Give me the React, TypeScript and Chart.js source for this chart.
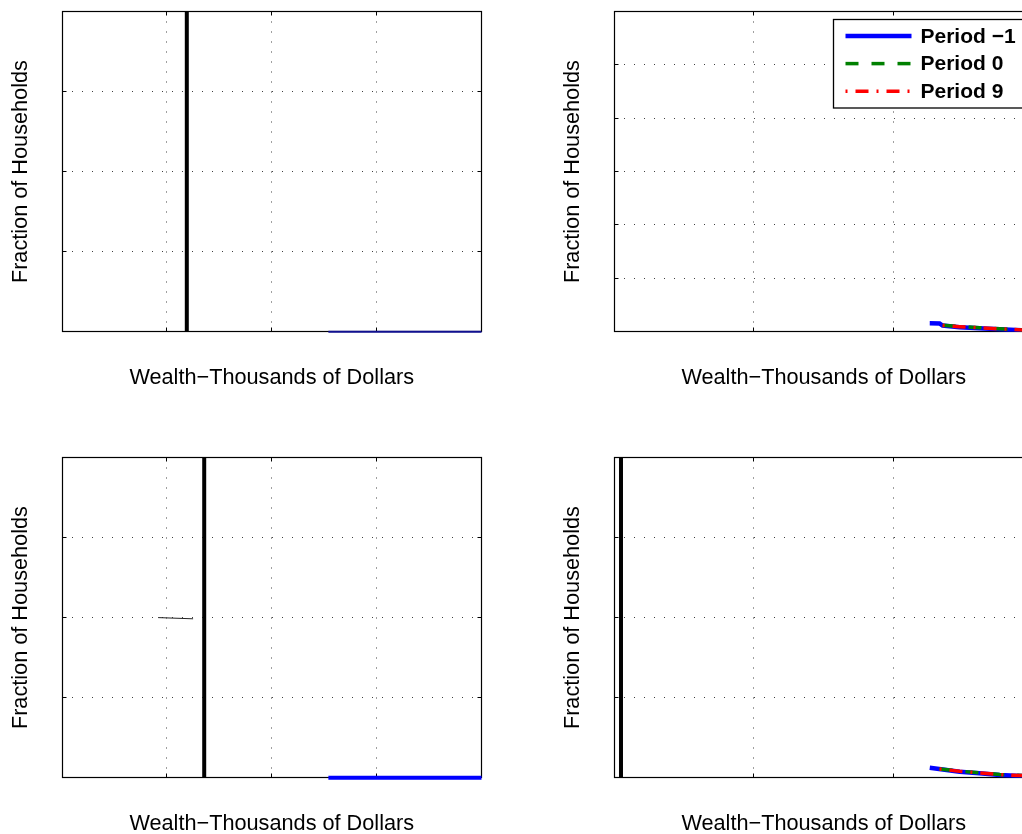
import React, { useEffect, useRef } from 'react';
import { Chart, registerables } from 'chart.js';

Chart.register(...registerables);

const FONT = "'Liberation Sans', Arial, Helvetica, sans-serif";

// ---- Axis ranges (no tick labels are shown in the figure) ----
const leftXMax = 400;
const leftXStep = 100;
const rightXMax = 1500;
const rightXStep = 500;
const yMax4 = 4;
const yMax6 = 6;

// ---- Panel 1 (top-left) ----
const p1MarkerX = [119, 119];
const p1MarkerY = [0, 4];
const p1BlueX = [254, 400];
const p1BlueY = [0, 0];

// ---- Panel 2 (top-right) ----
const p2BlueX = [1129, 1164, 1175, 1236, 1307, 1379, 1457, 1500];
const p2BlueY = [0.157, 0.155, 0.115, 0.082, 0.063, 0.045, 0.026, 0.02];
const p2GreenX = [1175, 1236, 1307, 1379, 1457, 1500];
const p2GreenY = [0.12, 0.095, 0.075, 0.055, 0.034, 0.027];
const p2RedX = [1175, 1236, 1307, 1379, 1457, 1500];
const p2RedY = [0.118, 0.094, 0.074, 0.054, 0.033, 0.026];

// ---- Panel 3 (bottom-left) ----
const p3MarkerX = [135.6, 135.6];
const p3MarkerY = [0, 4];
const p3ThinX = [91.6, 125];
const p3ThinY = [2.0, 1.985];
const p3BlueX = [254, 400];
const p3BlueY = [0, 0];

// ---- Panel 4 (bottom-right) ----
const p4MarkerX = [25, 25];
const p4MarkerY = [0, 4];
const p4BlueX = [1129, 1236, 1307, 1379, 1457, 1500];
const p4BlueY = [0.125, 0.075, 0.055, 0.034, 0.021, 0.017];
const p4GreenX = [1164, 1236, 1307, 1379, 1457, 1500];
const p4GreenY = [0.11, 0.082, 0.061, 0.04, 0.027, 0.022];
const p4RedX = [1164, 1236, 1307, 1379, 1457, 1500];
const p4RedY = [0.108, 0.081, 0.06, 0.039, 0.026, 0.021];

const seriesLabels = ['Period \u22121', 'Period 0', 'Period 9'];

type Series = {
  x: number[];
  y: number[];
  color: string;
  width: number;
  dash?: number[];
  dashOffset?: number;
  label?: string;
  order?: number;
  noClip?: boolean;
};

function pts(xs: number[], ys: number[]) {
  return xs.map((x, i) => ({ x, y: ys[i] }));
}

const al = (p: number) => Math.round(p - 0.5) + 0.5;

const boxPlugin = {
  id: 'matlabBox',
  beforeDatasetsDraw(chart: any) {
    const { ctx, chartArea: a, scales } = chart;
    const L = al(a.left), R = al(a.right), T = al(a.top), B = al(a.bottom);
    const tl = 4;
    ctx.save();
    ctx.setLineDash([]);
    ctx.strokeStyle = '#000';
    ctx.lineWidth = 1;
    ctx.beginPath();
    for (const t of scales.x.ticks) {
      const px = al(scales.x.getPixelForValue(t.value));
      ctx.moveTo(px, B);
      ctx.lineTo(px, B - tl);
      ctx.moveTo(px, T);
      ctx.lineTo(px, T + tl);
    }
    for (const t of scales.y.ticks) {
      const py = al(scales.y.getPixelForValue(t.value));
      ctx.moveTo(L, py);
      ctx.lineTo(L + tl, py);
      ctx.moveTo(R, py);
      ctx.lineTo(R - tl, py);
    }
    ctx.stroke();
    ctx.lineWidth = 1.2;
    ctx.strokeRect(L, T, R - L, B - T);
    ctx.restore();
  },
};

const legendPlugin = {
  id: 'insetLegend',
  afterDraw(chart: any) {
    const o = chart.options.plugins.insetLegend;
    if (!o || !o.display) return;
    const { ctx, chartArea: a } = chart;
    const items = chart.data.datasets.filter((d: any) => d.label);
    const w = 196;
    const h = 88.5;
    const rowH = 27.6;
    const right = a.right - 5;
    const left = right - w;
    const top = a.top + 7;
    ctx.save();
    ctx.fillStyle = '#fff';
    ctx.fillRect(left, top, w, h);
    ctx.lineWidth = 1.3;
    ctx.strokeStyle = '#000';
    ctx.setLineDash([]);
    ctx.strokeRect(Math.round(left) + 0.5, Math.round(top) + 0.5, w, h);
    items.forEach((d: any, i: number) => {
      const y = top + 17.5 + i * rowH;
      ctx.beginPath();
      ctx.setLineDash(d.borderDash || []);
      ctx.lineDashOffset = d.borderDashOffset || 0;
      ctx.lineCap = 'butt';
      ctx.strokeStyle = d.borderColor;
      ctx.lineWidth = d.borderWidth;
      ctx.moveTo(left + 13, y);
      ctx.lineTo(left + 79, y);
      ctx.stroke();
      ctx.setLineDash([]);
      ctx.fillStyle = '#000';
      ctx.font = `bold 21px ${FONT}`;
      ctx.textBaseline = 'middle';
      ctx.textAlign = 'left';
      ctx.fillText(d.label, left + 88, y + 1);
    });
    ctx.restore();
  },
};

type PanelProps = {
  left: number;
  top: number;
  xMax: number;
  xStep: number;
  yMax: number;
  series: Series[];
  legend?: boolean;
};

const TITLE_SIZE = 21.7;

function Panel({ left, top, xMax, xStep, yMax, series, legend }: PanelProps) {
  const ref = useRef<HTMLCanvasElement>(null);
  useEffect(() => {
    const chart = new Chart(ref.current as HTMLCanvasElement, {
      type: 'line',
      data: {
        datasets: series.map((s) => ({
          label: s.label ?? '',
          data: pts(s.x, s.y),
          borderColor: s.color,
          backgroundColor: s.color,
          borderWidth: s.width,
          borderDash: s.dash ?? [],
          borderDashOffset: s.dashOffset ?? 0,
          borderCapStyle: 'butt',
          pointRadius: 0,
          fill: false,
          tension: 0,
          order: s.order ?? 0,
          clip: s.noClip ? false : undefined,
        })),
      } as any,
      options: {
        responsive: false,
        animation: false,
        events: [],
        layout: { padding: { left: 0, top: 11.5, right: 18.5, bottom: 0 } },
        scales: {
          x: {
            type: 'linear',
            min: 0,
            max: xMax,
            ticks: { display: false, stepSize: xStep },
            grid: { color: 'rgba(0,0,0,0.75)', lineWidth: 1, drawTicks: false },
            border: { display: false, dash: [1, 9] },
            title: {
              display: true,
              text: 'Wealth\u2212Thousands of Dollars',
              color: '#000',
              font: { size: TITLE_SIZE, family: FONT },
              padding: { top: 33.3, bottom: 8.96 },
            },
          },
          y: {
            type: 'linear',
            min: 0,
            max: yMax,
            ticks: { display: false, stepSize: 1 },
            grid: { color: 'rgba(0,0,0,0.75)', lineWidth: 1, drawTicks: false },
            border: { display: false, dash: [1, 9] },
            title: {
              display: true,
              text: 'Fraction of Households',
              color: '#000',
              font: { size: TITLE_SIZE, family: FONT },
              padding: { top: 8.2, bottom: 27.76 },
            },
          },
        },
        plugins: {
          legend: { display: false },
          tooltip: { enabled: false },
          insetLegend: { display: !!legend },
        } as any,
      } as any,
      plugins: [boxPlugin, legendPlugin],
    });
    return () => chart.destroy();
  }, []);
  return (
    <div style={{ position: 'absolute', left, top, width: 500, height: 400 }}>
      <canvas ref={ref} width={500} height={400} style={{ display: 'block' }} />
    </div>
  );
}

const BLUE = '#0000ff';
const GREEN = '#008000';
const RED = '#ff0000';

const periodSeries = (bx: number[], by: number[], gx: number[], gy: number[], rx: number[], ry: number[]): Series[] => [
  { x: bx, y: by, color: BLUE, width: 4.5, label: seriesLabels[0], order: 3 },
  { x: gx, y: gy, color: GREEN, width: 3.5, dash: [13, 13], label: seriesLabels[1], order: 2 },
  { x: rx, y: ry, color: RED, width: 3.5, dash: [13, 8, 2, 8], dashOffset: 21, label: seriesLabels[2], order: 1 },
];

export default function App() {
  return (
    <div
      style={{
        position: 'fixed',
        left: 0,
        top: 0,
        width: 1022,
        height: 834,
        overflow: 'hidden',
        background: '#fff',
      }}
    >
      <Panel
        left={0}
        top={0}
        xMax={leftXMax}
        xStep={leftXStep}
        yMax={yMax4}
        series={[
          { x: p1MarkerX, y: p1MarkerY, color: '#000', width: 4 },
          { x: p1BlueX, y: p1BlueY, color: '#101090', width: 2, noClip: true },
        ]}
      />
      <Panel
        left={552}
        top={0}
        xMax={rightXMax}
        xStep={rightXStep}
        yMax={yMax6}
        legend
        series={periodSeries(p2BlueX, p2BlueY, p2GreenX, p2GreenY, p2RedX, p2RedY)}
      />
      <Panel
        left={0}
        top={446}
        xMax={leftXMax}
        xStep={leftXStep}
        yMax={yMax4}
        series={[
          { x: p3MarkerX, y: p3MarkerY, color: '#000', width: 4 },
          { x: p3ThinX, y: p3ThinY, color: '#222', width: 1 },
          { x: p3BlueX, y: p3BlueY, color: BLUE, width: 4, noClip: true },
        ]}
      />
      <Panel
        left={552}
        top={446}
        xMax={rightXMax}
        xStep={rightXStep}
        yMax={yMax4}
        series={[
          { x: p4MarkerX, y: p4MarkerY, color: '#000', width: 4, order: 4 },
          ...periodSeries(p4BlueX, p4BlueY, p4GreenX, p4GreenY, p4RedX, p4RedY).map((s) => ({ ...s, label: undefined })),
        ]}
      />
    </div>
  );
}
